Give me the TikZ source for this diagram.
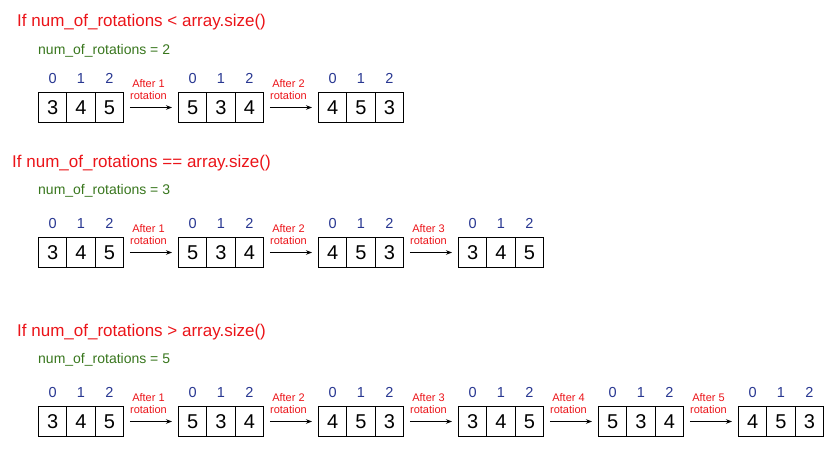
\documentclass[tikz,border=0pt]{standalone}
\usepackage{fontspec}
\setmainfont{Liberation Sans}
\usetikzlibrary{arrows.meta}
\definecolor{tred}{RGB}{235,20,25}
\definecolor{tgreen}{RGB}{56,118,29}
\definecolor{tblue}{RGB}{40,55,145}
\tikzset{
  cell/.style={draw, line width=1pt, minimum width=28.33pt, minimum height=30pt,
    inner sep=0pt, font=\fontsize{20}{20}\selectfont, anchor=north west},
  idx/.style={text=tblue, font=\fontsize{14.5}{14.5}\selectfont, inner sep=0pt},
  ttl/.style={text=tred, font=\fontsize{17}{17}\selectfont, anchor=base west, inner sep=0pt},
  sub/.style={text=tgreen, font=\fontsize{14}{14}\selectfont, anchor=base west, inner sep=0pt},
  lbl/.style={text=tred, font=\fontsize{11}{12}\selectfont, align=center, inner sep=0pt},
  rot/.style={-{Stealth[length=6pt,width=4.5pt]}, line width=0.9pt, shorten >=6pt, shorten <=6pt},
}
\begin{document}
\begin{tikzpicture}[x=1pt,y=-1pt]
\useasboundingbox (0,0) rectangle (835,449);
\node[ttl] (t1) at (17,27) {If num\_of\_rotations < array.size()};
\node[sub] (s1) at (38,55) {num\_of\_rotations = 2};
\node[ttl] (t2) at (12,168) {If num\_of\_rotations == array.size()};
\node[sub] (s2) at (38,195) {num\_of\_rotations = 3};
\node[ttl] (t3) at (17,336.5) {If num\_of\_rotations > array.size()};
\node[sub] (s3) at (38,363) {num\_of\_rotations = 5};
\foreach \r/\m/\t in {1/2/92, 2/3/237, 3/5/406}{
  \foreach \j/\a/\b/\c in {0/3/4/5, 1/5/3/4, 2/4/5/3, 3/3/4/5, 4/5/3/4, 5/4/5/3}{
    \ifnum\j>\m\relax\else
      \pgfmathsetmacro\xx{38+140*\j}
      \node[cell] (r\r a\j c0) at (\xx,\t) {\a};
      \node[cell] (r\r a\j c1) at (\xx+28.33,\t) {\b};
      \node[cell] (r\r a\j c2) at (\xx+56.66,\t) {\c};
      \foreach \k in {0,1,2}{
        \node[idx] (r\r a\j i\k) at ([yshift=13.5pt]r\r a\j c\k.north) {\k};
      }
      \ifnum\j>0
        \pgfmathtruncatemacro\pj{\j-1}
        \draw[rot] (r\r a\pj c2.east) -- node[lbl, xshift=-2.5pt, yshift=18pt] (r\r l\j) {After \j\\rotation} (r\r a\j c0.west);
      \fi
    \fi
  }
}
\end{tikzpicture}
\end{document}
